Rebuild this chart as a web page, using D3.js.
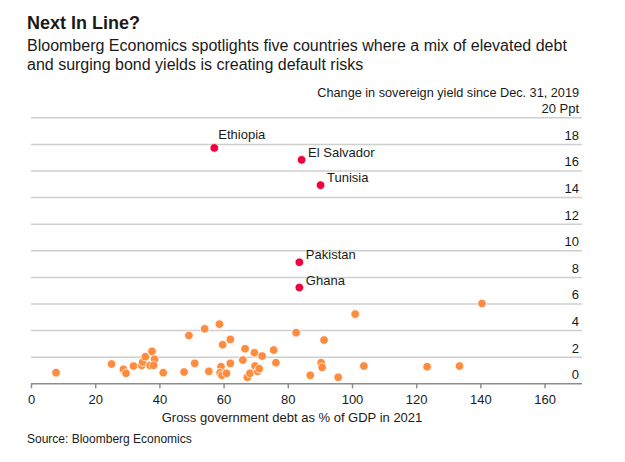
<!DOCTYPE html>
<html>
<head>
<meta charset="utf-8">
<script src="https://cdn.jsdelivr.net/npm/d3@7"></script>
<style>
  body { margin: 0; background: #fff; }
  svg text { font-family: "Liberation Sans", Arial, sans-serif; fill: #1a1a1a; }
</style>
</head>
<body>
<div id="chart"></div>
<script>
// highlighted countries: debt % of GDP (x), change in yield in ppt (y)
var countries = ["Ethiopia", "El Salvador", "Tunisia", "Pakistan", "Ghana"];
var countryDebt = [57.1, 84.3, 90.2, 83.6, 83.6];
var countryYield = [17.7, 16.8, 14.9, 9.1, 7.2];

// the other countries
var otherDebt = [7.8, 25.1, 28.8, 29.6, 31.9, 34.5, 34.8, 35.6, 37.1, 37.7, 38.5, 38.2, 41.2,
  47.7, 49.2, 51.0, 54.1, 55.4, 58.7, 59.7, 59.2, 58.9, 59.5, 60.9, 62.1, 62.1, 66.0, 66.7,
  67.4, 68.2, 69.6, 69.8, 70.6, 71.1, 72.0, 75.6, 76.3, 82.6, 87.0, 90.4, 90.7, 91.3, 95.7,
  101.0, 103.7, 123.4, 133.5, 140.5];
var otherYield = [0.8, 1.45, 1.05, 0.75, 1.3, 1.35, 1.6, 2.0, 1.35, 2.4, 1.8, 1.35, 0.8,
  0.85, 3.6, 1.5, 4.1, 0.9, 4.45, 2.9, 1.25, 0.8, 0.6, 0.75, 3.3, 1.5, 1.75, 2.6,
  0.45, 0.75, 2.3, 1.3, 0.9, 1.1, 2.05, 2.5, 1.55, 3.8, 0.6, 1.55, 1.2, 3.25, 0.45,
  5.2, 1.3, 1.25, 1.3, 6.0];

var xTicks = [0, 20, 40, 60, 80, 100, 120, 140, 160];
var yTicks = [0, 2, 4, 6, 8, 10, 12, 14, 16, 18, 20];

var width = 625, height = 462;
var plotLeft = 31, plotRight = 582, plotTop = 117.3, plotBottom = 383.3;

var svg = d3.select("#chart").append("svg").attr("width", width).attr("height", height);

var x = d3.scaleLinear().domain([0, 160]).range([plotLeft, 544.6]);
var y = d3.scaleLinear().domain([0, 20]).range([plotBottom, plotTop]);

// titles
svg.append("text").attr("x", 27).attr("y", 29)
  .style("font-size", "18px").style("font-weight", "bold").text("Next In Line?");
svg.append("text").attr("x", 27).attr("y", 51).style("font-size", "16px")
  .text("Bloomberg Economics spotlights five countries where a mix of elevated debt");
svg.append("text").attr("x", 27).attr("y", 69.5).style("font-size", "16px")
  .text("and surging bond yields is creating default risks");
svg.append("text").attr("x", 579).attr("y", 96.5).attr("text-anchor", "end")
  .style("font-size", "12.7px").text("Change in sovereign yield since Dec. 31, 2019");

// gridlines + right hand labels
var yAxis = svg.append("g").attr("transform", "translate(" + plotRight + ",0)")
  .call(d3.axisLeft(y).tickValues(yTicks).tickSize(plotRight - plotLeft)
    .tickFormat(function(d) { return d == 20 ? "20 Ppt" : d; }));
yAxis.select(".domain").remove();
yAxis.selectAll(".tick line")
  .attr("stroke", function(d) { return d == 0 ? "#8c8c8c" : "#cfcfcf"; })
  .attr("stroke-width", 1.5);
yAxis.selectAll(".tick text")
  .attr("x", -3).attr("dy", "-0.35em").attr("text-anchor", "end")
  .style("font-size", "13px").style("fill", "#1a1a1a");

// x axis
var xAxis = svg.append("g").attr("transform", "translate(0," + plotBottom + ")")
  .call(d3.axisBottom(x).tickValues(xTicks).tickSize(5).tickPadding(6));
xAxis.select(".domain").remove();
xAxis.selectAll(".tick line").attr("stroke", "#8c8c8c").attr("stroke-width", 1.5);
xAxis.selectAll(".tick text").style("font-size", "13px").style("fill", "#1a1a1a");

svg.append("text").attr("x", 292).attr("y", 421.5).attr("text-anchor", "middle")
  .style("font-size", "13px").text("Gross government debt as % of GDP in 2021");
svg.append("text").attr("x", 27).attr("y", 443).style("font-size", "12px")
  .text("Source: Bloomberg Economics");

// other countries
var others = otherDebt.map(function(d, i) { return {debt: d, yld: otherYield[i]}; });
svg.append("g").selectAll("circle").data(others).enter().append("circle")
  .attr("cx", function(d) { return x(d.debt); })
  .attr("cy", function(d) { return y(d.yld); })
  .attr("r", 4.3)
  .attr("fill", "#fd8c3e")
  .attr("stroke", "#fff").attr("stroke-width", 0.8);

// highlighted countries
var picks = countries.map(function(c, i) { return {name: c, debt: countryDebt[i], yld: countryYield[i]}; });
svg.append("g").selectAll("circle").data(picks).enter().append("circle")
  .attr("cx", function(d) { return x(d.debt); })
  .attr("cy", function(d) { return y(d.yld); })
  .attr("r", 4.3)
  .attr("fill", "#f0003c")
  .attr("stroke", "#fff").attr("stroke-width", 0.8);

svg.append("g").selectAll("text").data(picks).enter().append("text")
  .attr("x", function(d) { return x(d.debt) + (d.name == "Ethiopia" ? 4 : 6.5); })
  .attr("y", function(d) { return y(d.yld) + (d.name == "Ethiopia" ? -9 : -3); })
  .style("font-size", "13px")
  .text(function(d) { return d.name; });
</script>
</body>
</html>
